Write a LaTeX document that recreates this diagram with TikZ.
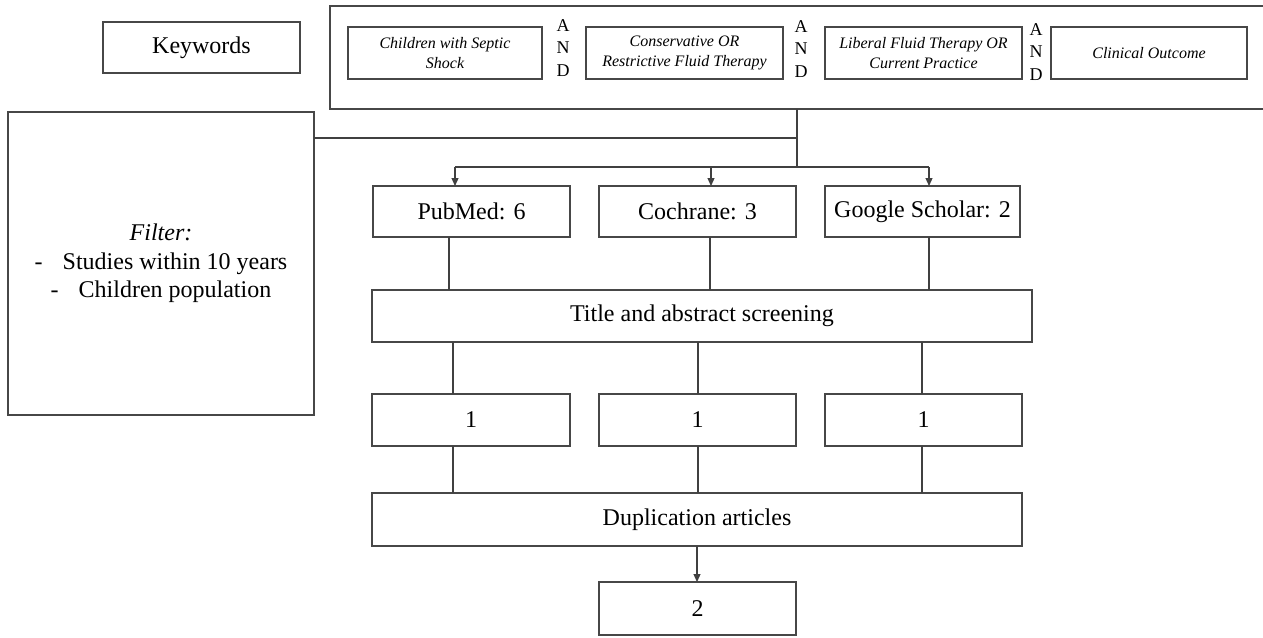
\documentclass[tikz,border=0pt]{standalone}
\usepackage{fontspec}
\setmainfont{Liberation Serif}
\usetikzlibrary{arrows.meta}
\begin{document}
\begin{tikzpicture}[x=1pt,y=-1pt,
  box/.style={draw=black!72, line width=1.3pt, inner sep=0pt, outer sep=0pt, align=center, font=\fontsize{24}{28.5}\selectfont},
  kbox/.style={box, font=\fontsize{16}{20}\selectfont\itshape},
  andtxt/.style={inner sep=0pt, align=center, font=\fontsize{18}{22.5}\selectfont},
  conn/.style={draw=black!75, line width=1.2pt},
  arr/.style={conn, -{Triangle[length=8pt,width=7pt]}}]
\useasboundingbox (0,0) rectangle (1263,637);
\clip (0,0) rectangle (1263,637);

% keyword area
\node[box, minimum width=197pt, minimum height=51pt] (kw) at (201.5,47.5) {Keywords};
\node[box, minimum width=950pt, minimum height=103pt] (cont) at (805,57.5) {};
\node[kbox, minimum width=194pt, minimum height=52pt] (k1) at (445,53) {Children with Septic\\Shock};
\node[kbox, minimum width=197pt, minimum height=52pt] (k2) at (684.5,53) {Conservative OR\\Restrictive Fluid Therapy};
\node[kbox, minimum width=197pt, minimum height=52pt] (k3) at (923.5,53) {Liberal Fluid Therapy OR\\Current Practice};
\node[kbox, minimum width=196pt, minimum height=52pt] (k4) at (1149,53) {Clinical Outcome};
\node[andtxt] (and1) at (563,48) {A\\N\\D};
\node[andtxt] (and2) at (801,49) {A\\N\\D};
\node[andtxt] (and3) at (1036,52) {A\\N\\D};

% filter
\node[box, minimum width=306pt, minimum height=303pt] (filter) at (161,263.5)
  {\textit{Filter:}\\-\hspace{20pt}Studies within 10 years\\-\hspace{20pt}Children population};

% databases
\node[box, minimum width=197pt, minimum height=51pt] (pub) at (471.5,211.5) {PubMed: 6};
\node[box, minimum width=197pt, minimum height=51pt] (coch) at (697.5,211.5) {Cochrane: 3};
\node[box, minimum width=195pt, minimum height=51pt] (goog) at (922.5,211.5) {Google Scholar: 2};

\node[box, minimum width=660pt, minimum height=52pt] (title) at (702,316) {Title and abstract screening};

\node[box, minimum width=198pt, minimum height=52pt] (one1) at (471,420) {1};
\node[box, minimum width=197pt, minimum height=52pt] (one2) at (697.5,420) {1};
\node[box, minimum width=197pt, minimum height=52pt] (one3) at (923.5,420) {1};

\node[box, minimum width=650pt, minimum height=53pt] (dup) at (697,519.5) {Duplication articles};
\node[box, minimum width=197pt, minimum height=53pt] (two) at (697.5,608.5) {2};

% connectors
\coordinate (j) at (797,167);
\coordinate (h) at (797,138);
\coordinate (ba) at (455,167);
\coordinate (bb) at (711,167);
\coordinate (bc) at (929,167);
\draw[conn] (cont.south -| j) -- (j);
\draw[conn] (filter.east |- h) -- (h);
\draw[conn] (ba) -- (bc);
\draw[arr] (ba) -- (pub.north -| ba);
\draw[arr] (bb) -- (coch.north -| bb);
\draw[arr] (bc) -- (goog.north -| bc);

\coordinate (c1) at (449,0);
\coordinate (c2) at (710,0);
\coordinate (c3) at (929,0);
\draw[conn] (pub.south -| c1) -- (title.north -| c1);
\draw[conn] (coch.south -| c2) -- (title.north -| c2);
\draw[conn] (goog.south -| c3) -- (title.north -| c3);

\coordinate (d1) at (453,0);
\coordinate (d2) at (698,0);
\coordinate (d3) at (922,0);
\draw[conn] (title.south -| d1) -- (one1.north -| d1);
\draw[conn] (title.south -| d2) -- (one2.north -| d2);
\draw[conn] (title.south -| d3) -- (one3.north -| d3);
\draw[conn] (one1.south -| d1) -- (dup.north -| d1);
\draw[conn] (one2.south -| d2) -- (dup.north -| d2);
\draw[conn] (one3.south -| d3) -- (dup.north -| d3);

\coordinate (e) at (697,0);
\draw[arr] (dup.south -| e) -- (two.north -| e);
\end{tikzpicture}
\end{document}
